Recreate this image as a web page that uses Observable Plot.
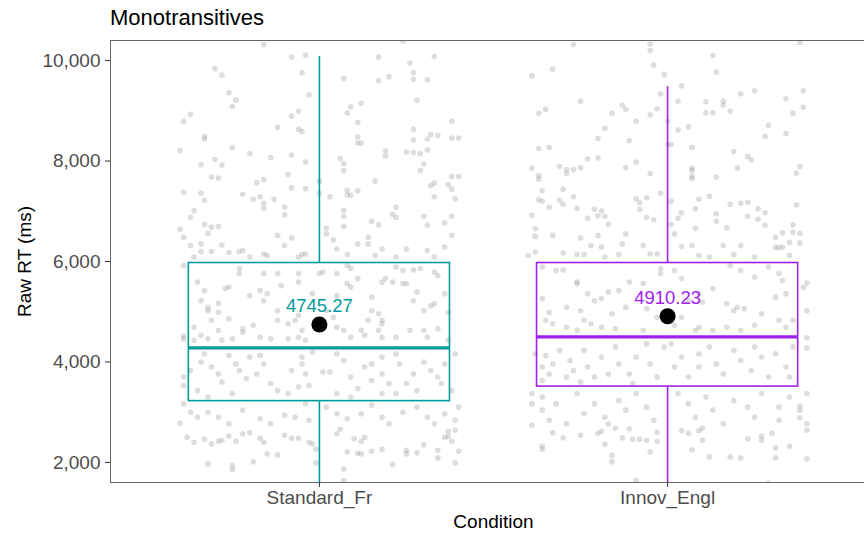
<!DOCTYPE html>
<html><head><meta charset="utf-8">
<script src="https://cdn.jsdelivr.net/npm/d3@7"></script>
<script src="https://cdn.jsdelivr.net/npm/@observablehq/plot@0.6"></script>
<style>
html,body{margin:0;padding:0;overflow:hidden;background:#fff;width:864px;height:533px}
#wrap{position:relative;width:864px;height:533px;overflow:hidden}
#chart{position:absolute;left:0;top:0;width:880px}
#chart svg{max-width:none !important;width:880px;height:533px}
#title{position:absolute;left:110px;top:7px;font-family:"Liberation Sans",Arial,sans-serif;font-size:22px;line-height:22px;color:#000;white-space:nowrap}
</style></head><body>
<div id="wrap"><div id="chart"></div><div id="title">Monotransitives</div></div>
<script>
const categories = ["Standard_Fr", "Innov_Engl"];
const colors = ["#009B9B", "#A020F0"];
const q1 = [3220, 3510];
const medians = [4280, 4500];
const q3 = [5970, 5970];
const whiskerLow = [1500, 1500];
const whiskerHigh = [10080, 9480];
const means = [4745.27, 4910.23];
const yTicks = [2000, 4000, 6000, 8000, 10000];

// jittered observations: [jitter offset (fraction of category step), RT in ms]
const stdPoints = [
[-0.16,10320],[-0.08,10070],[-0.04,10110],[-0.05,9760],[-0.03,9320],[-0.30,9840],[-0.28,9710],[-0.26,9360],[-0.24,9210],[-0.25,9090],[-0.39,8790],[-0.37,8930],[-0.33,8490],[-0.33,8440],[-0.40,8210],[-0.25,8270],[-0.20,8150],[-0.14,8070],[-0.08,8120],[-0.04,7980],[-0.12,8670],[-0.08,8890],[-0.06,8990],[-0.06,8630],[-0.05,8590],[-0.34,7930],[-0.30,8030],[-0.28,7920],[-0.31,7680],[-0.29,7660],[-0.09,7730],[-0.16,7630],[-0.18,7570],[-0.39,7380],[-0.34,7360],[-0.33,7220],[-0.22,7340],[-0.19,7240],[-0.17,7290],[-0.16,7160],[-0.16,7060],[-0.13,7240],[-0.08,7470],[-0.04,7450],[-0.10,7080],[-0.10,6930],[-0.36,7010],[-0.37,6880],[-0.33,6740],[-0.31,6680],[-0.29,6700],[-0.40,6640],
[0.07,9640],[0.17,10070],[0.26,9950],[0.33,10080],[0.17,9600],[0.20,9680],[0.27,9760],[0.27,9630],[0.31,9620],[0.24,10390],[0.28,9210],[0.08,8960],[0.09,9080],[0.12,9150],[0.11,8770],[0.38,8790],[0.27,8630],[0.27,8420],[0.31,8440],[0.32,8530],[0.34,8510],[0.38,8460],[0.40,8460],[0.11,8480],[0.11,8360],[0.12,8360],[0.19,8200],[0.19,8100],[0.25,8180],[0.27,8170],[0.29,8150],[0.31,8220],[0.06,8050],[0.07,7950],[0.07,7810],[0.30,7940],[0.29,7810],[0.16,7600],[0.00,7600],[0.00,7360],[0.03,7290],[0.08,7420],[0.08,7330],[0.09,7320],[0.11,7410],[0.32,7510],[0.33,7560],[0.37,7530],[0.38,7690],[0.40,7690],[0.38,7440],[0.33,7290],[0.39,7250],[0.22,7080],[0.21,6940],[0.22,6880],[0.07,7020],[0.07,6900],[0.07,6700],[0.15,6800],[0.17,6730],[0.30,6900],[0.31,6720],[0.36,6770],[0.38,6900],[0.02,6660],
[-0.39,6480],[-0.37,6320],[-0.34,6350],[-0.32,6560],[-0.28,6330],[-0.34,6200],[-0.36,6090],[-0.31,6200],[-0.26,6180],[-0.23,6200],[-0.22,6220],[-0.20,6090],[-0.16,6150],[-0.15,6120],[-0.12,6520],[-0.10,6320],[-0.08,6470],[-0.06,6090],[-0.05,6140],[-0.04,6150],[0.02,6550],[0.04,6430],[0.05,6250],[0.08,6140],[0.11,6350],[0.14,6480],[0.14,6350],[0.16,6120],[0.18,6250],[0.22,6090],[0.25,6250],[0.31,6220],[0.33,6090],[0.36,6290],[0.38,6520],
[-0.39,5920],[-0.35,5590],[-0.33,5420],[-0.34,5220],[-0.32,5090],[-0.32,5020],[-0.29,5170],[-0.29,4990],[-0.31,4830],[-0.26,4860],[-0.26,5490],[-0.27,5460],[-0.23,5860],[-0.23,5760],[-0.22,4660],[-0.22,4590],[-0.25,4460],[-0.29,4630],[-0.34,4530],[-0.36,4690],[-0.39,4510],[-0.39,4460],[-0.36,4430],[-0.32,4460],[-0.28,4430],[-0.20,5320],[-0.16,5760],[-0.17,5420],[-0.15,5360],[-0.16,5220],[-0.12,5760],[-0.11,5520],[-0.06,5590],[-0.06,5760],[-0.12,5020],[-0.12,4830],[-0.09,4760],[-0.07,4830],[-0.06,4930],[-0.19,4730],[-0.17,4490],[-0.14,4460],[-0.09,4460],[-0.06,4490],[-0.05,4630],[-0.04,4430],[-0.02,5360],
[0.00,5760],[0.01,5790],[0.05,5760],[0.08,5920],[0.09,5860],[0.08,5560],[0.09,5490],[0.11,5660],[0.05,5320],[0.02,5020],[0.04,4890],[0.05,4690],[0.07,4630],[0.09,4490],[0.12,4630],[0.14,4830],[0.15,5020],[0.17,4960],[0.18,4760],[0.18,4830],[0.15,5290],[0.18,5590],[0.19,5660],[0.21,5590],[0.24,5560],[0.25,5560],[0.22,5890],[0.24,5820],[0.27,5830],[0.29,5860],[0.33,5790],[0.34,5720],[0.28,5390],[0.27,5220],[0.30,5020],[0.32,5120],[0.33,5160],[0.36,5360],[0.37,4990],[0.34,4660],[0.30,4630],[0.31,4490],[0.26,4630],[0.22,4490],[0.18,4490],[0.17,4630],[0.37,4430],[0.13,4530],
[-0.39,3700],[-0.39,3530],[-0.37,3830],[-0.34,4000],[-0.33,4160],[-0.31,3900],[-0.29,3760],[-0.28,3600],[-0.26,4130],[-0.24,3960],[-0.23,3830],[-0.21,3670],[-0.20,4100],[-0.17,4130],[-0.16,3960],[-0.18,3760],[-0.14,3570],[-0.12,3430],[-0.09,3370],[-0.06,3500],[-0.08,3830],[-0.05,3960],[-0.04,3760],[-0.03,3530],[-0.05,4100],[-0.02,4200],[-0.35,3430],[-0.32,3300],[-0.25,3370],
[0.01,3800],[0.03,3800],[0.05,4160],[0.07,4030],[0.09,3700],[0.11,3470],[0.13,3900],[0.15,3630],[0.15,3960],[0.18,3760],[0.18,4100],[0.20,3570],[0.22,4160],[0.23,3960],[0.25,3570],[0.27,3760],[0.28,3430],[0.30,4000],[0.32,3830],[0.34,3700],[0.36,3960],[0.35,3570],[0.38,3430],[0.39,4160],[0.05,3370],[0.09,3300],[0.18,3370],[0.22,3370],
[-0.39,3170],[-0.37,3000],[-0.35,2900],[-0.32,3000],[-0.29,2900],[-0.26,2770],[-0.22,3040],[-0.17,2870],[-0.14,2770],[-0.10,2940],[-0.07,2900],[-0.04,3170],[-0.03,2840],[0.02,3100],[0.05,2970],[0.08,2870],[0.12,2970],[0.15,3140],[0.18,2900],[0.20,2770],[0.24,3000],[0.28,3100],[0.31,2900],[0.33,2770],[0.36,2970],[0.39,2840],[0.40,3100],[-0.40,2780],
[-0.38,2500],[-0.36,2400],[-0.33,2460],[-0.31,2370],[-0.29,2420],[-0.28,2440],[-0.26,2520],[-0.24,2420],[-0.22,2570],[-0.20,2590],[-0.17,2480],[-0.16,2400],[-0.10,2540],[-0.08,2480],[-0.06,2480],[-0.03,2400],[-0.02,2370],[-0.01,2260],[-0.15,2170],[-0.12,2150],[-0.32,1970],[-0.25,1940],[-0.25,1860],[-0.19,2010],[-0.01,1990],[0.07,1870],[0.07,1640],[0.06,2660],[0.05,2570],[0.10,2470],[0.12,2420],[0.13,2500],[0.08,2210],[0.11,2180],[0.12,2170],[0.15,2220],[0.18,2260],[0.25,2240],[0.25,2170],[0.28,2190],[0.30,2350],[0.34,2240],[0.34,2090],[0.40,2220],[0.39,1990],[0.21,1960],[0.36,2500],[0.37,2520],[0.38,2420],[0.37,2620],[0.39,2640]
];

const innPoints = [
[-0.27,10320],[-0.05,10330],[-0.05,10200],[-0.04,9910],[-0.01,9720],[0.13,10100],[0.14,9770],[0.38,10360],[-0.39,9700],[-0.33,9830],[-0.02,9340],[0.04,9500],[-0.25,9190],[-0.37,8950],[-0.35,9030],[-0.16,8950],[-0.13,9110],[-0.12,9030],[-0.09,8790],[-0.05,8920],[-0.03,9040],[0.00,8790],[0.03,9190],[0.11,9180],[0.11,8960],[0.13,8960],[0.16,9190],[0.16,9110],[0.18,8990],[0.21,9340],[0.25,9400],[0.34,9240],[0.36,8950],[0.39,9400],[0.39,9070],[-0.18,8650],[-0.20,8450],[-0.11,8410],[0.03,8620],[0.06,8680],[0.29,8710],[0.28,8490],[0.34,8550],[-0.37,8250],[-0.34,8270],[0.00,8330],[0.01,8330],[0.07,8270],[0.19,8190],[0.23,8090],[0.24,8020],[-0.39,7860],[-0.37,7710],[-0.37,7640],[-0.31,7890],[-0.29,7830],[-0.27,7830],[-0.29,7750],[-0.25,7870],[-0.23,8040],[-0.20,8060],[-0.12,7870],[-0.09,7980],[-0.05,7750],[0.07,7860],[0.07,7810],[0.07,7700],[0.07,7650],[0.14,7680],[0.20,7860],[0.38,7890],[0.37,7760],[-0.36,7410],[-0.30,7440],[-0.37,7230],[-0.36,7200],[-0.31,7220],[-0.30,7140],[-0.34,7080],[-0.27,7290],[-0.26,7060],[-0.39,6920],[-0.38,6650],[-0.23,6860],[-0.21,7040],[-0.20,6910],[-0.19,7010],[-0.18,6900],[-0.17,6740],[-0.09,7250],[-0.08,7170],[-0.06,7270],[-0.08,7040],[-0.06,6880],[-0.04,6830],[-0.02,7360],[0.01,7200],[0.03,6860],[0.04,6970],[0.01,6740],[0.09,7240],[0.12,7300],[0.08,7050],[0.14,6950],[0.14,6800],[0.18,7140],[0.21,7160],[0.23,7180],[0.26,7050],[0.28,6970],[0.23,6900],[0.26,6840],[0.28,6720],[0.36,6730],[0.37,7130],[0.17,6670],[0.08,6660],
[0.31,6480],[0.33,6570],[0.36,6580],[0.38,6560],[0.35,6380],[0.38,6370],[0.31,6280],[0.32,6280],[0.40,5570],[0.39,5480],[0.40,5020],[0.40,4480],[0.40,4280],[0.40,3370],[0.38,3120],[0.38,2890],[0.40,2770],[0.35,2320],[0.31,2290],[0.29,1590],
[-0.38,6500],[-0.40,6120],[-0.38,6190],[-0.33,6520],[-0.30,6170],[-0.26,6140],[-0.25,6470],[-0.24,6140],[-0.22,6320],[-0.20,6520],[-0.19,6290],[-0.18,6090],[-0.14,6140],[-0.12,6550],[-0.13,6350],[-0.07,6320],[-0.05,6150],[-0.03,6150],[0.02,6550],[0.04,6300],[0.07,6320],[0.09,6120],[0.12,6090],[0.16,6320],[0.19,6140],[0.21,6320],[0.25,6090],[0.33,6290],[0.35,6120],
[-0.36,5890],[-0.32,5820],[-0.30,5830],[-0.26,5560],[-0.26,5590],[-0.36,5260],[-0.34,4990],[-0.35,4830],[-0.33,4760],[-0.29,5090],[-0.25,5020],[-0.23,5360],[-0.21,5220],[-0.19,5260],[-0.24,4830],[-0.22,4760],[-0.19,4690],[-0.16,4960],[-0.15,4660],[-0.17,5390],[-0.14,5420],[-0.11,5590],[-0.07,5560],[-0.02,5860],[-0.02,5760],[0.02,5820],[0.04,5660],[-0.12,5090],[-0.06,5060],[-0.03,4890],[0.02,4730],[0.04,4890],[0.06,5220],[0.09,5360],[0.10,5190],[0.13,5460],[0.17,5160],[0.19,5020],[0.20,5090],[0.22,5060],[0.18,5920],[0.21,5820],[0.25,5690],[0.29,5890],[0.32,5760],[0.33,5620],[0.34,5360],[0.31,5290],[0.27,4960],[0.32,4830],[0.34,4690],[0.36,4830],[0.09,4690],[0.13,4630],[0.17,4690],[0.21,4630],[0.25,4730],[0.08,4630],[-0.07,4630],[-0.29,4690],[-0.26,4630],
[-0.38,4160],[-0.35,4130],[-0.33,3960],[-0.36,3900],[-0.34,3760],[-0.31,4230],[-0.28,4030],[-0.27,3830],[-0.29,3700],[-0.24,4230],[-0.23,3900],[-0.21,3700],[-0.19,4100],[-0.17,3760],[-0.15,4300],[-0.14,3960],[-0.11,3760],[-0.09,4100],[-0.06,4360],[-0.05,3960],[-0.03,3700],[-0.01,4300],[0.01,4360],[0.02,3900],[0.04,4100],[0.06,3700],[0.09,4160],[0.09,3900],[0.12,4300],[0.14,3960],[0.16,3760],[0.19,4230],[0.21,4030],[0.24,3830],[0.25,4300],[0.27,4100],[0.29,3700],[0.31,4160],[0.34,3900],[0.35,3700],[0.36,4300],[-0.10,3570],[-0.25,3600],[-0.36,3630],
[-0.39,3370],[-0.39,3170],[-0.36,3300],[-0.36,3040],[-0.34,2840],[-0.32,3170],[-0.29,2770],[-0.26,3370],[-0.24,2970],[-0.21,3170],[-0.18,2900],[-0.17,2770],[-0.14,3230],[-0.12,3040],[-0.09,3370],[-0.06,3100],[-0.04,2840],[0.03,3370],[0.06,3170],[0.08,2900],[0.11,3300],[0.13,3040],[0.16,2770],[0.19,3230],[0.23,3100],[0.25,2900],[0.27,3370],[0.32,3100],[0.32,2840],[0.35,3300],[0.38,3040],
[-0.39,2740],[-0.33,2590],[-0.30,2490],[-0.25,2540],[-0.20,2580],[-0.19,2620],[-0.15,2680],[-0.11,2670],[-0.13,2490],[-0.10,2460],[-0.08,2460],[-0.06,2440],[-0.03,2420],[-0.03,2600],[-0.18,2360],[-0.36,2320],[-0.36,2260],[-0.16,2140],[-0.16,2010],[-0.05,2210],[-0.09,1640],[0.04,2630],[0.06,2580],[0.09,2630],[0.10,2680],[0.10,2440],[0.07,2250],[0.12,2110],[0.18,2110],[0.21,2090],[0.23,2470],[0.27,2520],[0.27,2440],[0.30,2580],[0.31,2090],[0.40,2640],[0.40,2070]
];

const pos = categories.map((c, i) => i + 1);
const points = [
  ...stdPoints.map(([j, v]) => ({x: pos[0] + j, y: v})),
  ...innPoints.map(([j, v]) => ({x: pos[1] + j, y: v}))
];
const stats = categories.map((c, i) => ({
  cat: c, x: pos[i], color: colors[i], q1: q1[i], med: medians[i], q3: q3[i],
  lo: whiskerLow[i], hi: whiskerHigh[i], mean: means[i]
}));
const halfBox = 0.375;
const font = "Liberation Sans, Arial, sans-serif";

const chart = Plot.plot({
  width: 880,
  height: 533,
  marginLeft: 110,
  marginRight: 4,
  marginTop: 40,
  marginBottom: 51,
  style: {fontFamily: font, background: "white", overflow: "visible", maxWidth: "none"},
  x: {domain: [0.4, 2.6]},
  y: {domain: [1600, 10400]},
  marks: [
    Plot.dot(points, {x: "x", y: "y", r: 2.8, fill: "#a0a0a0", fillOpacity: 0.36, stroke: "none", clip: true}),
    Plot.ruleX(stats, {x: "x", y1: "q3", y2: "hi", stroke: "color", strokeWidth: 1.6, clip: true}),
    Plot.ruleX(stats, {x: "x", y1: "lo", y2: "q1", stroke: "color", strokeWidth: 1.6, clip: true}),
    Plot.rect(stats, {x1: d => d.x - halfBox, x2: d => d.x + halfBox, y1: "q1", y2: "q3", fill: "none", stroke: "color", strokeWidth: 1.6}),
    Plot.ruleY(stats, {y: "med", x1: d => d.x - halfBox, x2: d => d.x + halfBox, stroke: "color", strokeWidth: 3.4}),
    Plot.dot(stats, {x: "x", y: "mean", r: 8, fill: "black", stroke: "none"}),
    Plot.text(stats, {x: "x", y: "mean", text: d => d.mean.toFixed(2), fill: "color", fontSize: 18.5, dy: -18, fontFamily: font}),
    Plot.frame({stroke: "#666", strokeWidth: 1}),
    Plot.axisY({ticks: yTicks, tickFormat: d3.format(","), tickSize: 5, tickPadding: 5, fontSize: 19, fill: "#4d4d4d", stroke: "#333",
      label: "Raw RT (ms)", labelAnchor: "center", labelArrow: "none", labelOffset: 93}),
    Plot.axisX({ticks: pos, tickFormat: d => categories[d - 1], tickSize: 5, tickPadding: 3, fontSize: 19, fill: "#4d4d4d", stroke: "#333",
      label: "Condition", labelAnchor: "center", labelArrow: "none", labelOffset: 45})
  ]
});
chart.style.maxWidth = "none";
document.getElementById("chart").appendChild(chart);
// axis titles are black in the reference
chart.querySelectorAll("g[aria-label='y-axis label'] text, g[aria-label='x-axis label'] text").forEach(t => t.setAttribute("fill", "#000"));
</script>
</body></html>
